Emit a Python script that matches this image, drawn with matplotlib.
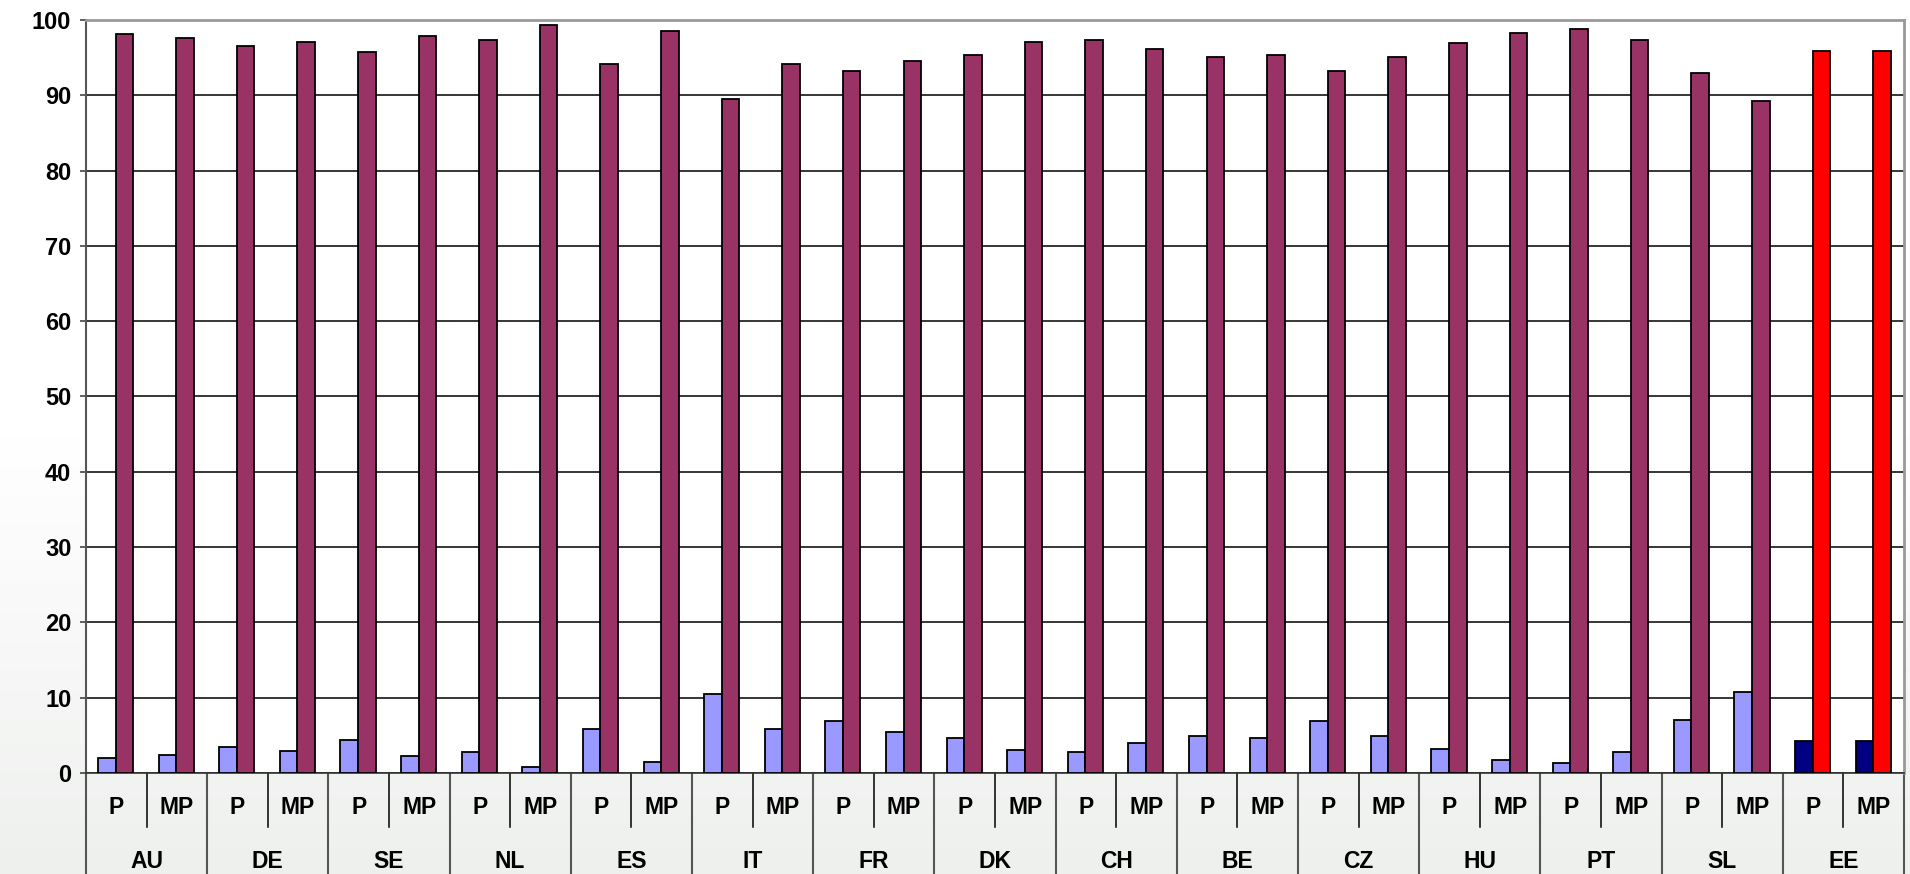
import matplotlib.pyplot as plt
import numpy as np

plt.rcParams['font.family'] = ['Liberation Sans', 'DejaVu Sans']

countries = ["AU", "DE", "SE", "NL", "ES", "IT", "FR", "DK", "CH", "BE", "CZ", "HU", "PT", "SL", "EE"]
sub_labels = ["P", "MP"]

# small (light blue) series, one value per country/sub-label
low_vals = [2.0, 2.4, 3.4, 2.9, 4.4, 2.2, 2.75, 0.75, 5.85, 1.5,
            10.5, 5.85, 6.9, 5.4, 4.7, 3.0, 2.75, 3.95, 4.9, 4.65,
            6.85, 4.9, 3.2, 1.75, 1.3, 2.75, 7.1, 10.75, 4.2, 4.2]
# large (purple) series
high_vals = [98.1, 97.6, 96.6, 97.1, 95.7, 97.9, 97.35, 99.3, 94.2, 98.6,
             89.5, 94.2, 93.2, 94.6, 95.4, 97.1, 97.35, 96.1, 95.15, 95.4,
             93.2, 95.15, 96.9, 98.3, 98.8, 97.35, 92.95, 89.3, 95.9, 95.9]

highlight = "EE"

n = len(low_vals)
x = np.arange(n)
owner = [countries[i // 2] for i in range(n)]
low_cols = ['#000080' if c == highlight else '#9999FF' for c in owner]
high_cols = ['#FF0000' if c == highlight else '#993366' for c in owner]

fig = plt.figure(figsize=[19.1, 8.74], dpi=100)

# faint background gradient like the original
bg = fig.add_axes([0, 0, 1, 1], zorder=-10)
grad = np.linspace(1, 0, 256).reshape(-1, 1)
bg.imshow(grad, aspect='auto', cmap=plt.matplotlib.colors.LinearSegmentedColormap.from_list(
    'g', ['#ffffff', '#ffffff', '#eef0ee']), extent=[0, 1, 0, 1], origin='lower')
bg.axis('off')

ax = fig.add_axes([0.045, 0.1156, 0.9519, 0.8615])
ax.set_facecolor('white')

w = 0.29
ax.bar(x - w / 2 - 0.01, low_vals, width=w, color=low_cols, edgecolor='black', linewidth=1.3, zorder=3)
ax.bar(x + w / 2 - 0.01, high_vals, width=w, color=high_cols, edgecolor='black', linewidth=1.3, zorder=3)

ax.set_xlim(-0.5, n - 0.5)
ax.set_ylim(0, 100)
ax.set_yticks(np.arange(0, 101, 10))
ax.yaxis.grid(True, color='black', linewidth=1.1, zorder=0)
ax.tick_params(axis='y', labelsize=17, length=4.5, width=1.2, pad=6, color='#444444')
for lbl in ax.get_yticklabels():
    lbl.set_fontweight('bold')
ax.set_xticks([])

for s in ['top', 'right']:
    ax.spines[s].set_color('#999999')
    ax.spines[s].set_linewidth(2)
ax.spines['left'].set_color('#555555')
ax.spines['left'].set_linewidth(1.5)
ax.spines['bottom'].set_color('#333333')
ax.spines['bottom'].set_linewidth(1.2)

# category label box below the axis
tr = ax.get_xaxis_transform()
for i in range(n):
    ax.text(x[i], -0.0465, sub_labels[i % 2], transform=tr, ha='center', va='center',
            fontsize=16.5, fontweight='bold')
    if i % 2 == 1:
        ax.plot([i - 0.5, i - 0.5], [0, -0.0717], transform=tr, color='black', lw=1.1, clip_on=False)
for g, c in enumerate(countries):
    ax.text(2 * g + 0.5, -0.118, c, transform=tr, ha='center', va='center', fontsize=16.5, fontweight='bold')
for g in range(len(countries) + 1):
    ax.plot([2 * g - 0.5, 2 * g - 0.5], [0, -0.14], transform=tr, color='#555555', lw=1.5, clip_on=False)

fig.savefig('out.png', dpi=100)
